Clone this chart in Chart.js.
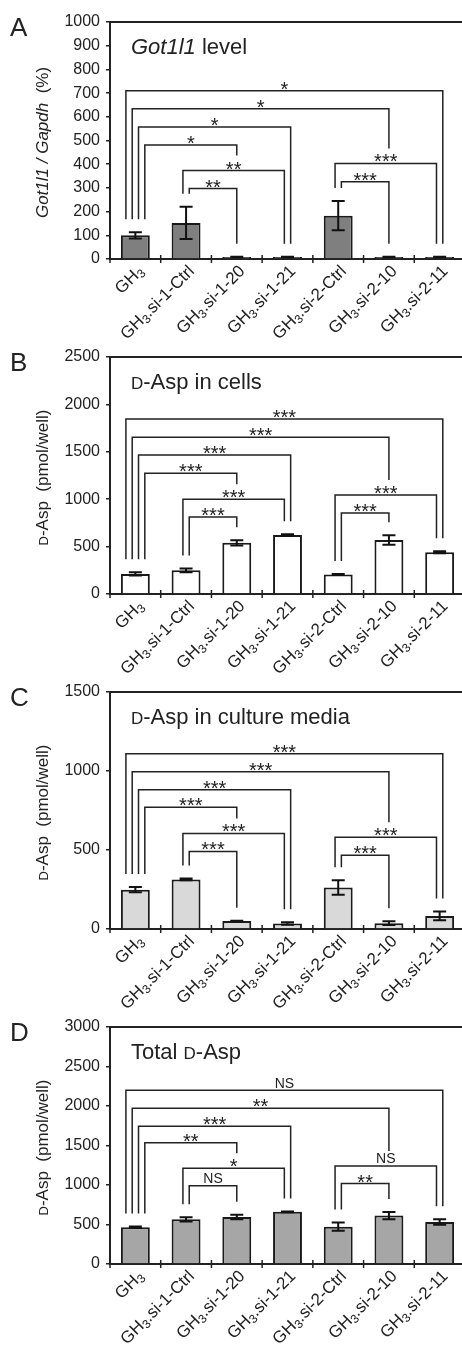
<!DOCTYPE html>
<html>
<head>
<meta charset="utf-8">
<title>Got1l1 knockdown and D-Asp</title>
<script src="https://cdn.jsdelivr.net/npm/chart.js@4.4.0/dist/chart.umd.min.js"></script>
<style>
  html, body { margin: 0; padding: 0; background: #fff; }
  body { width: 462px; height: 1347px; overflow: hidden; position: relative; }
  canvas { position: absolute; left: 0; }
</style>
</head>
<body>
<canvas id="chartA" width="470" height="365" style="top:0px"></canvas>
<canvas id="chartB" width="470" height="365" style="top:335px"></canvas>
<canvas id="chartC" width="470" height="365" style="top:670px"></canvas>
<canvas id="chartD" width="470" height="365" style="top:1005px"></canvas>
<script>
const categories = ["GH3", "GH3.si-1-Ctrl", "GH3.si-1-20", "GH3.si-1-21", "GH3.si-2-Ctrl", "GH3.si-2-10", "GH3.si-2-11"];

// A: Got1l1 / Gapdh (%)
const gotLevel = [100, 152, 8, 8, 183, 8, 8];
const gotLevelErr = [13, 68, 1, 1, 62, 1, 1];
// B: D-Asp in cells (pmol/well)
const cellAsp = [212, 250, 540, 622, 205, 570, 440];
const cellAspErr = [18, 20, 28, 8, 5, 50, 10];
// C: D-Asp in culture media (pmol/well)
const mediaAsp = [249, 314, 51, 35, 262, 37, 83];
const mediaAspErr = [17, 5, 2, 8, 46, 12, 28];
// D: total D-Asp (pmol/well)
const totalAsp = [465, 565, 595, 660, 473, 613, 532];
const totalAspErr = [10, 27, 27, 5, 52, 46, 36];

// pairwise comparisons (category indexes), same for every panel
const comparisons = [[0, 6], [0, 5], [0, 3], [0, 2], [1, 3], [1, 2], [4, 6], [4, 5]];
const gotBracketY = [710, 634, 557, 481, 373, 297, 403, 326];
const gotMarks = ["*", "*", "*", "*", "**", "**", "***", "***"];
const cellBracketY = [1847, 1653, 1466, 1275, 1000, 812, 1045, 855];
const cellMarks = ["***", "***", "***", "***", "***", "***", "***", "***"];
const mediaBracketY = [1109, 995, 882, 770, 605, 491, 580, 466];
const mediaMarks = ["***", "***", "***", "***", "***", "***", "***", "***"];
const totalBracketY = [2198, 1971, 1744, 1534, 1212, 989, 1241, 1018];
const totalMarks = ["NS", "**", "***", "**", "*", "NS", "NS", "**"];

const FAMILY = '"Liberation Sans", Arial, Helvetica, sans-serif';
const INK = "#222";
const font = (size, style) => (style ? style + " " : "") + size + "px " + FAMILY;

const panels = {
  chartA: {
    letter: "A", values: gotLevel, errors: gotLevelErr, levels: gotBracketY, marks: gotMarks,
    yMax: 1000, yStep: 100, fill: "#7f7f7f",
    title: [{ text: "Got1l1", font: font(22, "italic") }, { text: " level", font: font(22) }],
    yTitle: [{ text: "Got1l1 / Gapdh", font: font(17, "italic") }, { text: "  (%)", font: font(17) }],
  },
  chartB: {
    letter: "B", values: cellAsp, errors: cellAspErr, levels: cellBracketY, marks: cellMarks,
    yMax: 2500, yStep: 500, fill: "#ffffff",
    title: [{ text: "D", font: font(17) }, { text: "-Asp in cells", font: font(22) }],
    yTitle: [{ text: "D", font: font(13) }, { text: "-Asp  (pmol/well)", font: font(17) }],
  },
  chartC: {
    letter: "C", values: mediaAsp, errors: mediaAspErr, levels: mediaBracketY, marks: mediaMarks,
    yMax: 1500, yStep: 500, fill: "#d9d9d9",
    title: [{ text: "D", font: font(17) }, { text: "-Asp in culture media", font: font(22) }],
    yTitle: [{ text: "D", font: font(13) }, { text: "-Asp  (pmol/well)", font: font(17) }],
  },
  chartD: {
    letter: "D", values: totalAsp, errors: totalAspErr, levels: totalBracketY, marks: totalMarks,
    yMax: 3000, yStep: 500, fill: "#a6a6a6",
    title: [{ text: "Total ", font: font(22) }, { text: "D", font: font(17) }, { text: "-Asp", font: font(22) }],
    yTitle: [{ text: "D", font: font(13) }, { text: "-Asp  (pmol/well)", font: font(17) }],
  },
};

function runsWidth(ctx, runs) {
  let w = 0;
  runs.forEach((r) => { ctx.font = r.font; w += ctx.measureText(r.text).width; });
  return w;
}

function drawRuns(ctx, runs, x, y) {
  runs.forEach((r) => {
    ctx.font = r.font;
    ctx.fillText(r.text, x, y + (r.dy || 0));
    x += ctx.measureText(r.text).width;
  });
}

// "GH3..." is written with a subscript 3
function labelRuns(name) {
  return [
    { text: name.slice(0, 2), font: font(17) },
    { text: name.charAt(2), font: font(12), dy: 3 },
    { text: name.slice(3), font: font(17) },
  ];
}

function drawErrorBars(chart, spec) {
  const ctx = chart.ctx, x = chart.scales.x, y = chart.scales.y;
  ctx.save();
  ctx.strokeStyle = "#111";
  ctx.lineWidth = 2;
  spec.values.forEach((v, i) => {
    const cx = x.getPixelForValue(i);
    const hi = y.getPixelForValue(v + spec.errors[i]);
    const lo = y.getPixelForValue(v - spec.errors[i]);
    ctx.beginPath();
    ctx.moveTo(cx, lo); ctx.lineTo(cx, hi);
    ctx.moveTo(cx - 6.5, hi); ctx.lineTo(cx + 6.5, hi);
    ctx.moveTo(cx - 6.5, lo); ctx.lineTo(cx + 6.5, lo);
    ctx.stroke();
  });
  ctx.restore();
}

function drawBrackets(chart, spec) {
  const ctx = chart.ctx, x = chart.scales.x, y = chart.scales.y;
  const legs = [];
  comparisons.forEach(([a, b], k) => {
    legs.push({ k, cat: a, side: "left", level: spec.levels[k] });
    legs.push({ k, cat: b, side: "right", level: spec.levels[k] });
  });

  // a leg stops short above a lower bracket that runs across it
  legs.forEach((leg) => {
    let blocker = null;
    comparisons.forEach(([a, b], j) => {
      const lv = spec.levels[j];
      if (a < leg.cat && b > leg.cat && lv < leg.level && (!blocker || lv > blocker)) blocker = lv;
    });
    leg.full = blocker === null;
    leg.bottom = leg.full
      ? y.getPixelForValue(spec.values[leg.cat] + spec.errors[leg.cat]) - 13
      : y.getPixelForValue(blocker) - 15;
    leg.x = x.getPixelForValue(leg.cat);
  });

  // full legs sharing a bar are spread out, outer brackets outside
  categories.forEach((_, c) => {
    const group = legs.filter((l) => l.cat === c && l.full);
    group.sort((p, q) => {
      if (p.side !== q.side) return p.side === "right" ? -1 : 1;
      return p.side === "right" ? p.level - q.level : q.level - p.level;
    });
    group.forEach((l, i) => { l.x += (i - (group.length - 1) / 2) * 6.3; });
  });

  ctx.save();
  ctx.strokeStyle = INK;
  ctx.fillStyle = INK;
  ctx.lineWidth = 1.5;
  ctx.textAlign = "center";
  ctx.textBaseline = "alphabetic";
  comparisons.forEach((_, k) => {
    const l = legs.find((g) => g.k === k && g.side === "left");
    const r = legs.find((g) => g.k === k && g.side === "right");
    const top = y.getPixelForValue(spec.levels[k]);
    ctx.beginPath();
    ctx.moveTo(l.x, l.bottom);
    ctx.lineTo(l.x, top);
    ctx.lineTo(r.x, top);
    ctx.lineTo(r.x, r.bottom);
    ctx.stroke();
    const mark = spec.marks[k];
    const mx = (l.x + r.x) / 2;
    if (mark === "NS") {
      ctx.font = font(14);
      ctx.fillText(mark, mx, top - 2.5);
    } else {
      ctx.font = font(20);
      ctx.fillText(mark, mx, top + 5);
    }
  });
  ctx.restore();
}

function drawFrame(chart, spec) {
  const ctx = chart.ctx, area = chart.chartArea, x = chart.scales.x;
  ctx.save();
  ctx.strokeStyle = INK;
  ctx.fillStyle = INK;

  // top edge of the box
  ctx.lineWidth = 2;
  ctx.beginPath();
  ctx.moveTo(area.left, area.top);
  ctx.lineTo(chart.width, area.top);
  ctx.stroke();

  // ticks between categories, crossing the axis
  ctx.lineWidth = 1.5;
  ctx.beginPath();
  categories.forEach((_, i) => {
    const bx = i === 0 ? area.left : (x.getPixelForValue(i - 1) + x.getPixelForValue(i)) / 2;
    ctx.moveTo(bx, area.bottom - (i ? 4 : 0));
    ctx.lineTo(bx, area.bottom + 4);
  });
  ctx.stroke();

  // rotated category names
  ctx.textAlign = "left";
  ctx.textBaseline = "alphabetic";
  categories.forEach((name, i) => {
    const runs = labelRuns(name);
    const w = runsWidth(ctx, runs);
    ctx.save();
    ctx.translate(x.getPixelForValue(i) + 9, area.bottom + 13);
    ctx.rotate(-Math.PI / 4);
    drawRuns(ctx, runs, -w, 0);
    ctx.restore();
  });

  // panel letter and in-plot title
  ctx.font = font(26);
  ctx.fillText(spec.letter, 10, 36);
  drawRuns(ctx, spec.title, 131, 54);

  // y axis title
  const yw = runsWidth(ctx, spec.yTitle);
  ctx.save();
  ctx.translate(48, (area.top + area.bottom) / 2 + 2);
  ctx.rotate(-Math.PI / 2);
  drawRuns(ctx, spec.yTitle, -yw / 2, 0);
  ctx.restore();

  ctx.restore();
}

const panelPlugin = {
  id: "panelDecor",
  afterDatasetsDraw(chart) {
    drawErrorBars(chart, panels[chart.canvas.id]);
  },
  afterDraw(chart) {
    const spec = panels[chart.canvas.id];
    drawBrackets(chart, spec);
    drawFrame(chart, spec);
  },
};

Object.keys(panels).forEach((id) => {
  const spec = panels[id];
  const canvas = document.getElementById(id);
  const xHeight = canvas.height - 22 - 237;
  new Chart(canvas, {
    type: "bar",
    data: {
      labels: categories,
      datasets: [{
        data: spec.values,
        backgroundColor: spec.fill,
        borderColor: "#1a1a1a",
        borderWidth: 2,
        categoryPercentage: 1,
        barPercentage: 0.57,
      }],
    },
    options: {
      responsive: false,
      animation: false,
      layout: { padding: { top: 22, right: 5, left: 0, bottom: 0 } },
      plugins: { legend: { display: false }, tooltip: { enabled: false } },
      scales: {
        x: {
          grid: { display: false },
          border: { display: true, color: INK, width: 2 },
          ticks: { display: false },
          afterFit: (s) => { s.height = xHeight; },
        },
        y: {
          min: 0,
          max: spec.yMax,
          ticks: {
            stepSize: spec.yStep,
            color: INK,
            padding: 6,
            font: { family: FAMILY, size: 16 },
            callback: (v) => String(v),
          },
          grid: { display: true, drawOnChartArea: false, drawTicks: true, tickLength: 4, color: INK, lineWidth: 1.5 },
          border: { display: true, color: INK, width: 2 },
          afterFit: (s) => { s.width = 110; },
        },
      },
    },
    plugins: [panelPlugin],
  });
});
</script>
</body>
</html>
